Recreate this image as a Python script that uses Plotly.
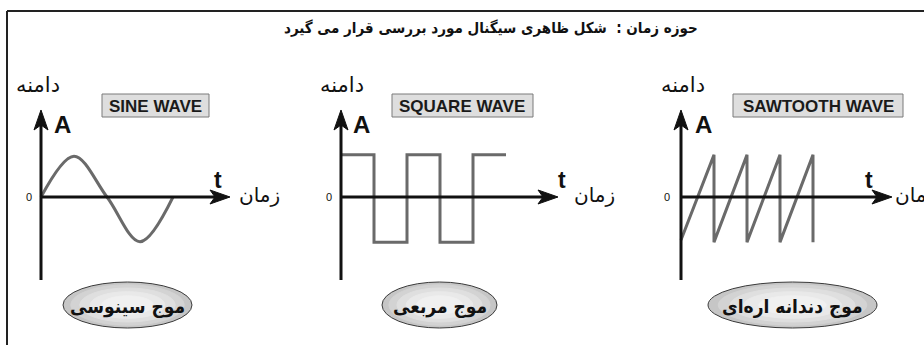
import plotly.graph_objects as go

# ---- canvas -------------------------------------------------------------
W, H = 924, 345
PX_PER_T = 33.0      # horizontal pixels per time unit
PX_PER_A = 43.0      # vertical pixels per amplitude unit
AXIS_Y = 197         # pixel row of the time axis (A = 0)

# ---- data ---------------------------------------------------------------
panel_titles = ["SINE WAVE", "SQUARE WAVE", "SAWTOOTH WAVE"]
panel_names = ["موج سینوسی", "موج مربعی", "موج دندانه اره‌ای"]
title_text = "حوزه زمان :  شکل ظاهری سیگنال مورد بررسی قرار می گیرد"
amp_label = "دامنه"
time_label = "زمان"

sine_t = [0, 1, 2, 3, 4]
sine_a = [0, 0.95, 0, -1.04, 0]

square_t = [0, 1, 2, 3, 4, 5]
square_a = [0.98, -1.05, 0.98, -1.05, 0.98, 0.98]

saw_t = [0, 1, 1, 2, 2, 3, 3, 4, 4]
saw_a = [-1.0, 0.98, -1.05, 0.98, -1.05, 0.98, -1.05, 0.98, -1.05]

# ---- layout geometry (pixels) -------------------------------------------
origins = [41, 341, 681]                 # x pixel of each vertical axis
t_tips = [230, 558, 892]                 # x pixel of time-axis arrow tip
v_top, v_bottom = 110, 280               # vertical axis extent
boxes = [(102, 209), (392, 533), (733, 903)]      # wave-name boxes (x0, x1)
box_y = (94, 117)
ellipses = [(63, 192), (382, 497), (708, 877)]    # ellipse (x0, x1)
ell_y = (282, 328)
a_label_x = [63, 361, 703]
t_label_x = [218, 562, 869]
zero_x = [29, 329, 667]
time_word_x = [237, 572, 893]            # left edge of "زمان"
amp_word_x = [38, 342, 683]

WAVE_COLOR = "#6a6a6a"
AXIS_COLOR = "#111111"
LATIN = "Liberation Sans, Arial, sans-serif"
ARABIC = "DejaVu Sans, sans-serif"
ARABIC_NARROW = "DejaVu Sans Condensed, DejaVu Sans, sans-serif"


def fx(p):
    return p / W


def fy(p):
    return 1 - p / H


fig = go.Figure()

waves = [(sine_t, sine_a, "spline"), (square_t, square_a, "hv"), (saw_t, saw_a, "linear")]
for i, (t, a, shape) in enumerate(waves):
    n = "" if i == 0 else str(i + 1)
    fig.add_trace(go.Scatter(
        x=t, y=a, mode="lines",
        line=dict(color=WAVE_COLOR, width=3, shape=shape),
        xaxis="x" + n, yaxis="y" + n, hoverinfo="skip", showlegend=False,
    ))
    x0 = origins[i]
    fig.update_layout(**{
        "xaxis" + n: dict(domain=[0, 1], range=[-x0 / PX_PER_T, (W - x0) / PX_PER_T],
                          visible=False, fixedrange=True, anchor="y" + n),
        "yaxis" + n: dict(domain=[0, 1], range=[(AXIS_Y - H) / PX_PER_A, AXIS_Y / PX_PER_A],
                          visible=False, fixedrange=True, anchor="x" + n),
    })

shapes = []
annotations = []

# frame
shapes.append(dict(type="line", xref="paper", yref="paper", x0=fx(7), x1=fx(W + 5),
                   y0=fy(11), y1=fy(11), line=dict(color="#222", width=2)))
shapes.append(dict(type="line", xref="paper", yref="paper", x0=fx(7), x1=fx(7),
                   y0=fy(11), y1=fy(H + 5), line=dict(color="#222", width=2)))


def dart(tip_x, tip_y, direction):
    """Filled arrow head path in paper coords; direction 'r' or 'u'."""
    L, Wd, notch = 20, 7, 5
    if direction == "r":
        pts = [(tip_x, tip_y), (tip_x - L, tip_y - Wd), (tip_x - L + notch, tip_y),
               (tip_x - L, tip_y + Wd)]
    else:
        pts = [(tip_x, tip_y), (tip_x - Wd, tip_y + L), (tip_x, tip_y + L - notch),
               (tip_x + Wd, tip_y + L)]
    path = "M " + " L ".join(f"{fx(x):.5f},{fy(y):.5f}" for x, y in pts) + " Z"
    return dict(type="path", xref="paper", yref="paper", path=path,
                fillcolor=AXIS_COLOR, line=dict(color=AXIS_COLOR, width=1))


for i in range(3):
    x0 = origins[i]
    # axes
    shapes.append(dict(type="line", xref="paper", yref="paper",
                       x0=fx(x0), x1=fx(x0), y0=fy(v_bottom), y1=fy(v_top + 10),
                       line=dict(color=AXIS_COLOR, width=3)))
    shapes.append(dict(type="line", xref="paper", yref="paper",
                       x0=fx(x0), x1=fx(t_tips[i] - 10), y0=fy(AXIS_Y), y1=fy(AXIS_Y),
                       line=dict(color=AXIS_COLOR, width=3)))
    shapes.append(dart(x0, v_top, "u"))
    shapes.append(dart(t_tips[i], AXIS_Y, "r"))

    # wave-name box
    bx0, bx1 = boxes[i]
    shapes.append(dict(type="rect", xref="paper", yref="paper",
                       x0=fx(bx0), x1=fx(bx1), y0=fy(box_y[1]), y1=fy(box_y[0]),
                       fillcolor="#dedede", line=dict(color="#7a7a7a", width=1)))
    annotations.append(dict(xref="paper", yref="paper", x=fx((bx0 + bx1) / 2),
                            y=fy((box_y[0] + box_y[1]) / 2 + 0.5), text="<b>" + panel_titles[i] + "</b>",
                            showarrow=False, font=dict(family=LATIN, size=17, color="#1a1a1a"),
                            xanchor="center", yanchor="middle"))

    # shaded ellipse (layered for a soft radial fill)
    ex0, ex1 = ellipses[i]
    cx, cy = (ex0 + ex1) / 2, (ell_y[0] + ell_y[1]) / 2
    rx, ry = (ex1 - ex0) / 2, (ell_y[1] - ell_y[0]) / 2
    layers = [(1.0, "#c6c6c6"), (0.88, "#d3d3d3"), (0.74, "#dfdfdf"), (0.58, "#e9e9e9"),
              (0.4, "#f0f0f0")]
    for k, (s, col) in enumerate(layers):
        shapes.append(dict(type="circle", xref="paper", yref="paper",
                           x0=fx(cx - rx * s), x1=fx(cx + rx * s),
                           y0=fy(cy + ry * s), y1=fy(cy - ry * s),
                           fillcolor=col,
                           line=dict(color="#3a3a3a" if k == 0 else col, width=1)))
    annotations.append(dict(xref="paper", yref="paper", x=fx(cx), y=fy(cy + 1),
                            text="<b>" + panel_names[i] + "</b>", showarrow=False,
                            font=dict(family=ARABIC_NARROW, size=19, color="#111"),
                            xanchor="center", yanchor="middle"))

    # axis labels
    annotations.append(dict(xref="paper", yref="paper", x=fx(a_label_x[i]), y=fy(124),
                            text="<b>A</b>", showarrow=False,
                            font=dict(family=LATIN, size=24, color="#111"),
                            xanchor="center", yanchor="middle"))
    annotations.append(dict(xref="paper", yref="paper", x=fx(t_label_x[i]), y=fy(180),
                            text="<b>t</b>", showarrow=False,
                            font=dict(family=LATIN, size=23, color="#111"),
                            xanchor="center", yanchor="middle"))
    annotations.append(dict(xref="paper", yref="paper", x=fx(zero_x[i]), y=fy(AXIS_Y),
                            text="0", showarrow=False,
                            font=dict(family=LATIN, size=11, color="#111"),
                            xanchor="center", yanchor="middle"))
    annotations.append(dict(xref="paper", yref="paper", x=fx(time_word_x[i]), y=fy(AXIS_Y - 2),
                            text=time_label, showarrow=False,
                            font=dict(family=ARABIC, size=20, color="#111"),
                            xanchor="left", yanchor="middle"))
    annotations.append(dict(xref="paper", yref="paper", x=fx(amp_word_x[i]), y=fy(85),
                            text=amp_label, showarrow=False,
                            font=dict(family=ARABIC, size=21, color="#111"),
                            xanchor="center", yanchor="middle"))

annotations.append(dict(xref="paper", yref="paper", x=fx(491), y=fy(28),
                        text="<b>" + title_text + "</b>", showarrow=False,
                        font=dict(family=ARABIC_NARROW, size=15, color="#111"),
                        xanchor="center", yanchor="middle"))

fig.update_layout(
    width=W, height=H, margin=dict(l=0, r=0, t=0, b=0),
    paper_bgcolor="white", plot_bgcolor="rgba(0,0,0,0)",
    shapes=shapes, annotations=annotations, showlegend=False,
)

fig.write_html("out.html", config={"displayModeBar": False})
